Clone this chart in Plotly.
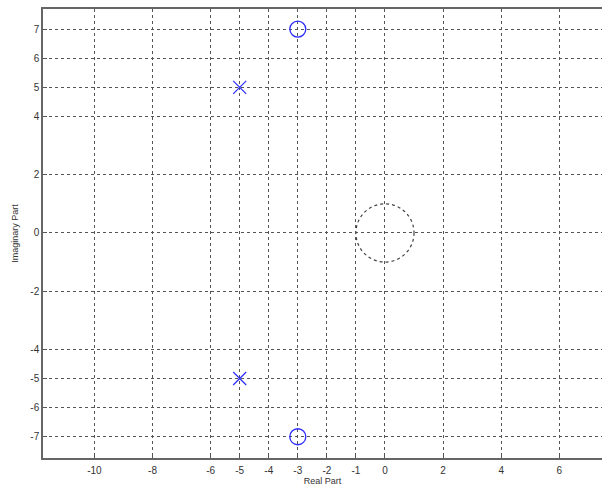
import plotly.graph_objects as go

# Pole-zero map: zeros (o) and poles (x) in the complex plane
zeros_re = [-3, -3]
zeros_im = [7, -7]
poles_re = [-5, -5]
poles_im = [5, -5]

x_ticks = [-10, -8, -6, -5, -4, -3, -2, -1, 0, 2, 4, 6]
y_ticks = [-7, -6, -5, -4, -2, 0, 2, 4, 5, 6, 7]
unit_radius = 1

fig = go.Figure()

fig.add_trace(go.Scatter(
    x=zeros_re, y=zeros_im, mode="markers",
    marker=dict(symbol="circle-open", size=16, color="#2b2bff",
                line=dict(width=1.3, color="#2b2bff")),
    showlegend=False, cliponaxis=False,
))
fig.add_trace(go.Scatter(
    x=poles_re, y=poles_im, mode="markers",
    marker=dict(symbol="x-thin-open", size=13, color="#2b2bff",
                line=dict(width=1.2, color="#2b2bff")),
    showlegend=False,
))

# Unit circle (stability boundary)
fig.add_shape(type="circle", xref="x", yref="y",
              x0=-unit_radius, y0=-unit_radius, x1=unit_radius, y1=unit_radius,
              line=dict(color="#444444", width=1.2, dash="dot"), layer="below")

axis_common = dict(
    showgrid=True, gridcolor="#555555", gridwidth=1, griddash="dot",
    zeroline=False, showline=True, linecolor="#666666", linewidth=1.5,
    ticks="inside", ticklen=4, tickcolor="#555555",
    tickfont=dict(family="Liberation Sans, Arial", size=10, color="#333333"),
)

fig.update_xaxes(range=[-11.77, 7.47], tickvals=x_ticks, ticktext=[str(v) for v in x_ticks],
                 mirror=True, ticklabelstandoff=2,
                 title=dict(text="Real Part", standoff=3,
                            font=dict(family="Liberation Sans, Arial", size=9, color="#333333")),
                 **axis_common)
fig.update_yaxes(range=[-7.73, 7.69], tickvals=y_ticks, ticktext=[str(v) for v in y_ticks],
                 mirror=False,
                 title=dict(text="Imaginary Part", standoff=10,
                            font=dict(family="Liberation Sans, Arial", size=9, color="#333333")),
                 **axis_common)

fig.update_layout(
    width=602, height=486,
    margin=dict(l=43, r=0, t=9, b=28),
    plot_bgcolor="white", paper_bgcolor="white",
)

fig.write_html("out.html")
